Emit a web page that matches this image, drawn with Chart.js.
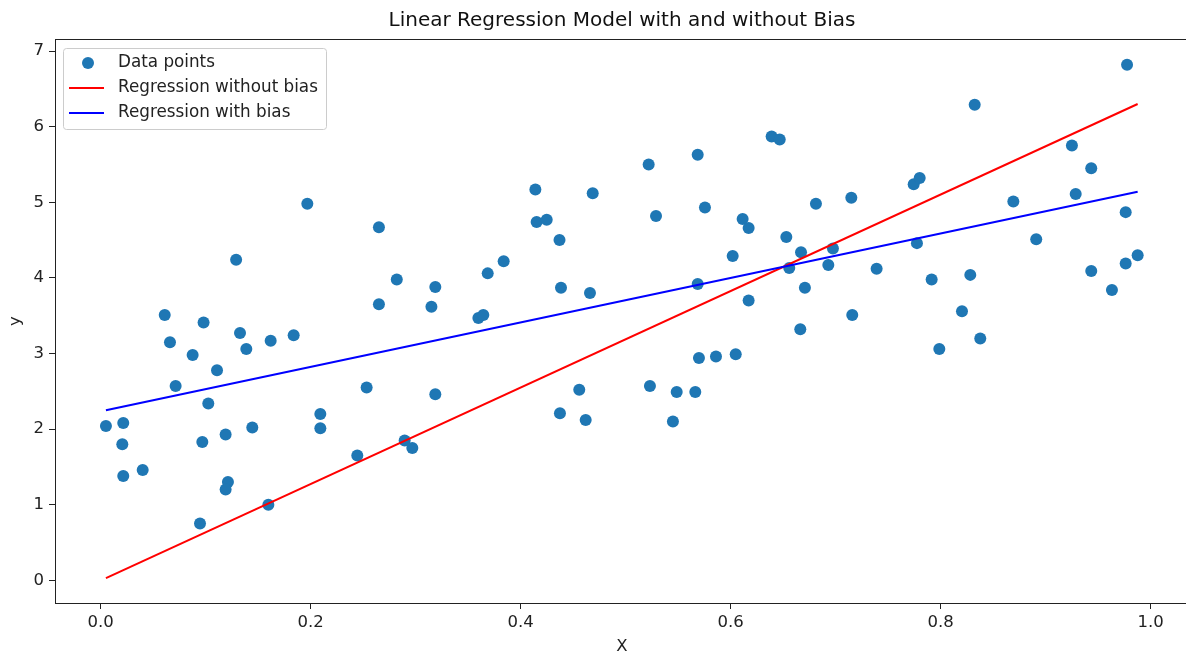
<!DOCTYPE html>
<html>
<head>
<meta charset="utf-8">
<script src="https://cdn.jsdelivr.net/npm/chart.js@4.4.1/dist/chart.umd.min.js"></script>
<style>
  html, body { margin: 0; padding: 0; background: #fff; overflow: hidden; }
  #wrap { width: 1186px; height: 657px; overflow: hidden; }
</style>
</head>
<body>
<div id="wrap"><canvas id="canvas" width="1195" height="657"></canvas></div>
<script>
// data
const pointX = [
  0.005, 0.0215, 0.0206, 0.0215, 0.040, 0.061, 0.066, 0.0714, 0.0876, 0.098,
  0.1025, 0.0968, 0.0946, 0.1108, 0.119, 0.1212, 0.119, 0.1327, 0.1387, 0.1444,
  0.1619, 0.1597, 0.1838, 0.2092, 0.2092, 0.2444, 0.2533, 0.265, 0.129, 0.1968,
  0.265, 0.282, 0.315, 0.3187, 0.3597, 0.3644, 0.3686, 0.3838, 0.414, 0.4152,
  0.4248, 0.437, 0.4384, 0.4686, 0.466, 0.5219, 0.5289, 0.5686, 0.5755, 0.5686,
  0.6019, 0.6114, 0.6171, 0.6171, 0.639, 0.6467, 0.653, 0.667, 0.6558, 0.6707,
  0.6663, 0.3187, 0.2895, 0.2968, 0.4374, 0.4558, 0.4619, 0.5231, 0.5486, 0.545,
  0.5663, 0.5698, 0.586, 0.6048, 0.9775, 0.8324, 0.925, 0.9434, 0.7743, 0.78,
  0.6812, 0.7149, 0.9286, 0.8692, 0.9762, 0.6974, 0.693, 0.739, 0.7774, 0.891,
  0.7914, 0.8282, 0.9434, 0.9762, 0.9876, 0.9631, 0.7158, 0.8203, 0.7987, 0.8377
];
const pointY = [
  2.04, 2.08, 1.80, 1.38, 1.46, 3.51, 3.15, 2.57, 2.98, 3.41,
  2.34, 1.83, 0.75, 2.78, 1.93, 1.30, 1.20, 3.27, 3.06, 2.02,
  3.17, 1.00, 3.24, 2.20, 2.01, 1.65, 2.55, 3.65, 4.24, 4.98,
  4.67, 3.98, 3.62, 3.88, 3.47, 3.51, 4.06, 4.22, 5.17, 4.74,
  4.77, 4.50, 3.87, 5.12, 3.80, 5.50, 4.82, 5.63, 4.93, 3.92,
  4.29, 4.78, 4.66, 3.70, 5.87, 5.83, 4.54, 4.34, 4.13, 3.87,
  3.32, 2.46, 1.85, 1.75, 2.21, 2.52, 2.12, 2.57, 2.49, 2.10,
  2.49, 2.94, 2.96, 2.99, 6.82, 6.29, 5.75, 5.45, 5.24, 5.32,
  4.98, 5.06, 5.11, 5.01, 4.87, 4.39, 4.17, 4.12, 4.46, 4.51,
  3.98, 4.04, 4.09, 4.19, 4.30, 3.84, 3.51, 3.56, 3.06, 3.20
];
// fitted lines, end points
const lineX = [0.005, 0.9876];
const noBiasY = [0.03, 6.30];
const withBiasY = [2.25, 5.14];

const xTicks = [0.0, 0.2, 0.4, 0.6, 0.8, 1.0];
const yTicks = [0, 1, 2, 3, 4, 5, 6, 7];

const labels = ['Data points', 'Regression without bias', 'Regression with bias'];
const colours = ['#1f77b4', '#ff0000', '#0000ff'];

const toPoints = (xs, ys) => xs.map((x, i) => ({ x: x, y: ys[i] }));

const FONT = "'DejaVu Sans', sans-serif";
Chart.defaults.font.family = FONT;
Chart.defaults.color = '#222';

// matplotlib-style frame and legend box
const frameAndLegend = {
  id: 'frameAndLegend',
  afterDraw(chart) {
    const ctx = chart.ctx;
    const a = chart.chartArea;
    ctx.save();
    ctx.strokeStyle = '#222';
    ctx.lineWidth = 1;
    ctx.strokeRect(Math.round(a.left) + 0.5, Math.round(a.top) + 0.5,
      Math.round(a.right - a.left), Math.round(a.bottom - a.top));

    // legend
    const bx = a.left + 8, by = a.top + 9, bw = 263, bh = 81;
    ctx.fillStyle = 'rgba(255,255,255,0.8)';
    ctx.strokeStyle = '#cccccc';
    ctx.beginPath();
    ctx.roundRect(bx + 0.5, by + 0.5, bw, bh, 3);
    ctx.fill();
    ctx.stroke();
    ctx.font = '16.8px ' + FONT;
    ctx.textBaseline = 'middle';
    for (let i = 0; i < labels.length; i++) {
      const cy = by + 15 + i * 25;
      if (i === 0) {
        ctx.fillStyle = colours[0];
        ctx.beginPath();
        ctx.arc(bx + 25, cy, 6, 0, Math.PI * 2);
        ctx.fill();
      } else {
        ctx.strokeStyle = colours[i];
        ctx.lineWidth = 2;
        ctx.beginPath();
        ctx.moveTo(bx + 6, cy);
        ctx.lineTo(bx + 41, cy);
        ctx.stroke();
      }
      ctx.fillStyle = '#222';
      ctx.fillText(labels[i], bx + 55, cy);
    }
    ctx.restore();
  }
};

window.onload = () => {
  const ctx = document.getElementById('canvas').getContext('2d');
  new Chart(ctx, {
    type: 'scatter',
    data: {
      datasets: [
        {
          label: labels[0],
          data: toPoints(pointX, pointY),
          backgroundColor: colours[0],
          borderColor: colours[0],
          pointRadius: 6,
          pointBorderWidth: 0,
          order: 2
        },
        {
          label: labels[1],
          data: toPoints(lineX, noBiasY),
          showLine: true,
          borderColor: colours[1],
          backgroundColor: colours[1],
          borderWidth: 2,
          pointRadius: 0,
          order: 1
        },
        {
          label: labels[2],
          data: toPoints(lineX, withBiasY),
          showLine: true,
          borderColor: colours[2],
          backgroundColor: colours[2],
          borderWidth: 2,
          pointRadius: 0,
          order: 0
        }
      ]
    },
    options: {
      responsive: false,
      animation: false,
      layout: { padding: { left: 0, right: 6, top: 0, bottom: 0 } },
      plugins: {
        legend: { display: false },
        tooltip: { enabled: false },
        title: {
          display: true,
          fullSize: false,
          text: 'Linear Regression Model with and without Bias',
          color: '#111',
          font: { size: 20, weight: 'normal', family: FONT },
          padding: { top: 9, bottom: 6 }
        }
      },
      scales: {
        x: {
          type: 'linear',
          min: -0.0435,
          max: 1.0365,
          afterFit: (s) => { s.height = 54; },
          afterBuildTicks: (s) => { s.ticks = xTicks.map(v => ({ value: v })); },
          title: { display: true, text: 'X', color: '#222', font: { size: 16.5 }, padding: { top: 0, bottom: 0 } },
          grid: { drawOnChartArea: false, drawTicks: true, tickLength: 6, color: '#222' },
          border: { display: true, color: '#222' },
          ticks: {
            font: { size: 16.5 },
            color: '#222',
            padding: 4,
            maxRotation: 0,
            callback: (v) => Number(v).toFixed(1)
          }
        },
        y: {
          type: 'linear',
          min: -0.30,
          max: 7.16,
          afterFit: (s) => { s.width = 55; },
          afterBuildTicks: (s) => { s.ticks = yTicks.map(v => ({ value: v })); },
          title: { display: true, text: 'y', color: '#222', font: { size: 16.5 }, padding: { top: 6, bottom: 0 } },
          grid: { drawOnChartArea: false, drawTicks: true, tickLength: 6, color: '#222' },
          border: { display: true, color: '#222' },
          ticks: {
            font: { size: 16.5 },
            color: '#222',
            padding: 5,
            callback: (v) => String(v)
          }
        }
      }
    },
    plugins: [frameAndLegend]
  });
};
</script>
</body>
</html>
